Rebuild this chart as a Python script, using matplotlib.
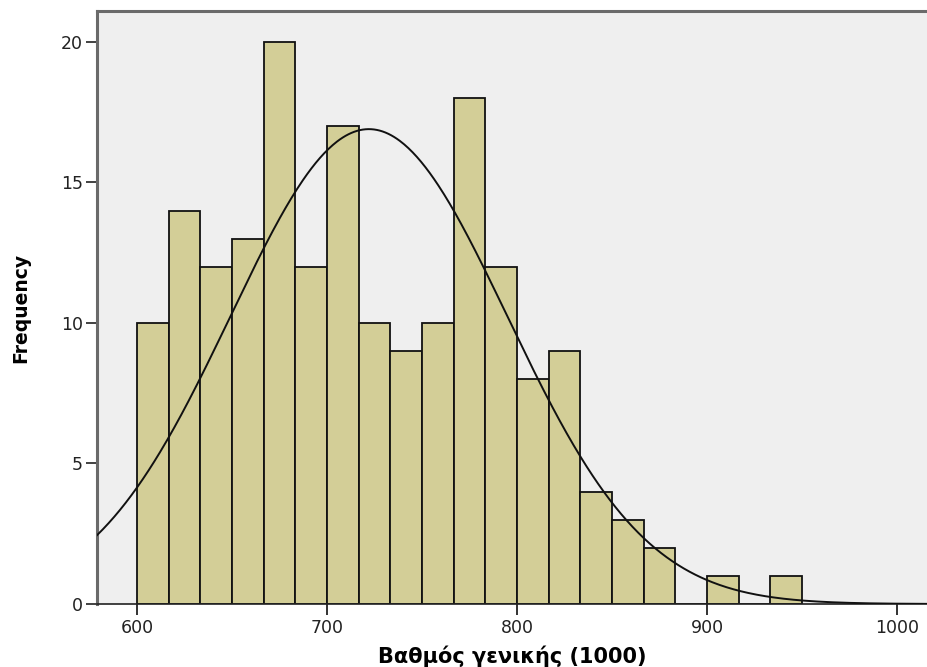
import numpy as np
import matplotlib
matplotlib.use("Agg")
import matplotlib.pyplot as plt

# Histogram of scores, 21 bins from 600 to 950
bin_start = 600.0
bin_end = 950.0
counts = [10, 14, 12, 13, 20, 12, 17, 10, 9, 10, 18, 12, 8, 9, 4, 3, 2, 0, 1, 0, 1]

# Fitted normal curve parameters
mean_score = 722.0
std_score = 72.8

x_ticks = [600, 700, 800, 900, 1000]
y_ticks = [0, 5, 10, 15, 20]

n_bins = len(counts)
edges = np.linspace(bin_start, bin_end, n_bins + 1)
width = edges[1] - edges[0]
total = sum(counts)

fig = plt.figure(figsize=(9.28, 6.67), dpi=100)
ax = fig.add_axes([97 / 928, 63 / 667, 1 - 97 / 928, (604 - 11) / 667])
ax.set_facecolor("#efefef")

ax.bar(edges[:-1], counts, width=width, align="edge", color="#d3ce97",
       edgecolor="#111111", linewidth=1.3, zorder=2)

xs = np.linspace(570, 1020, 600)
pdf = total * width / (std_score * np.sqrt(2 * np.pi)) * np.exp(-0.5 * ((xs - mean_score) / std_score) ** 2)
ax.plot(xs, pdf, color="#111111", linewidth=1.4, zorder=3)

ax.set_xlim(578.9, 1016.3)
ax.set_ylim(0, 21.1)
ax.set_xticks(x_ticks)
ax.set_yticks(y_ticks)

for side in ["left", "top"]:
    ax.spines[side].set_color("#6a6a6a")
    ax.spines[side].set_linewidth(2.2)
ax.spines["right"].set_visible(False)
ax.spines["bottom"].set_color("#222222")
ax.spines["bottom"].set_linewidth(1.2)

ax.tick_params(axis="x", direction="out", length=8, width=1.3, color="#222222",
               labelsize=12.5, labelcolor="#222222", pad=3)
ax.tick_params(axis="y", direction="out", length=8, width=1.3, color="#333333",
               labelsize=12.5, labelcolor="#222222", pad=2)

ax.set_xlabel("Βαθμός γενικής (1000)", fontsize=15, fontweight="bold", labelpad=6)
ax.set_ylabel("Frequency", fontsize=13.5, fontweight="bold", labelpad=22)

fig.savefig("out.png", dpi=100)
